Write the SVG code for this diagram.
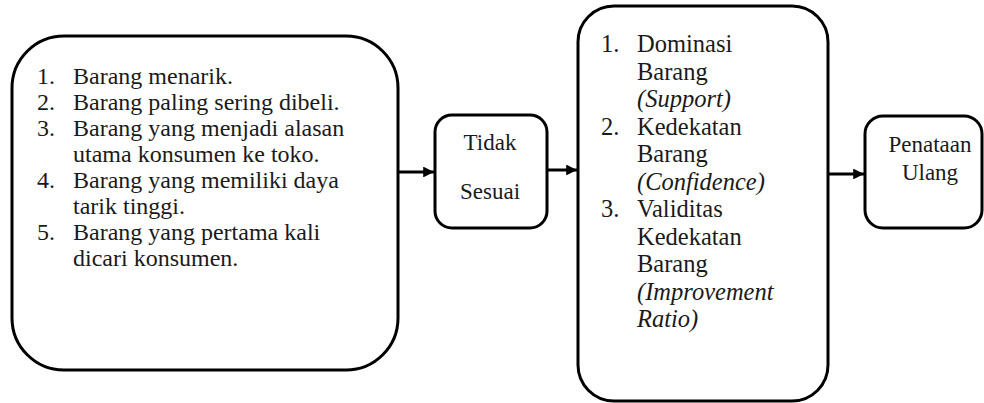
<svg xmlns="http://www.w3.org/2000/svg" width="984" height="403" viewBox="0 0 984 403">
<style>
  .box { fill: #fff; stroke: #000; stroke-width: 3; }
  .t { font-family: 'Liberation Serif', 'Times New Roman', serif; fill: #1a1a1a; }
  .b1 { font-size: 24px; }
  .b2 { font-size: 23px; }
  .b3 { font-size: 24.5px; }
  .i { font-style: italic; }
  .conn line { stroke: #000; stroke-width: 3; }
</style>
<defs>
  <marker id="ah" viewBox="0 0 10 10" refX="10" refY="5" markerWidth="3.8" markerHeight="3.6" markerUnits="strokeWidth" orient="auto">
    <path d="M0,0 L10,5 L0,10 Z" fill="#000"/>
  </marker>
</defs>
<rect width="984" height="403" fill="#fff"/>
<g id="criteria">
  <rect class="box" x="12" y="36" width="386" height="334" rx="52" ry="52"/>
  <g class="t b1">
    <text x="37" y="84">1.</text><text x="73" y="84">Barang menarik.</text>
    <text x="37" y="110">2.</text><text x="73" y="110">Barang paling sering dibeli.</text>
    <text x="37" y="136">3.</text><text x="73" y="136">Barang yang menjadi alasan</text>
    <text x="73" y="162">utama konsumen ke toko.</text>
    <text x="37" y="188">4.</text><text x="73" y="188">Barang yang memiliki daya</text>
    <text x="73" y="214">tarik tinggi.</text>
    <text x="37" y="240">5.</text><text x="73" y="240">Barang yang pertama kali</text>
    <text x="73" y="266">dicari konsumen.</text>
  </g>
</g>
<g id="tidak-sesuai">
  <rect class="box" x="435" y="115" width="112" height="113" rx="17" ry="17"/>
  <g class="t b2" text-anchor="middle">
    <text x="490" y="150">Tidak</text>
    <text x="490" y="199">Sesuai</text>
  </g>
</g>
<g id="analysis">
  <rect class="box" x="578" y="6" width="250" height="395" rx="36" ry="36"/>
  <g class="t b3">
    <text x="601" y="52">1.</text><text x="637" y="52">Dominasi</text>
    <text x="637" y="79.5">Barang</text>
    <text class="i" x="637" y="107">(Support)</text>
    <text x="601" y="134.5">2.</text><text x="637" y="134.5">Kedekatan</text>
    <text x="637" y="162">Barang</text>
    <text class="i" x="637" y="189.5">(Confidence)</text>
    <text x="601" y="217">3.</text><text x="637" y="217">Validitas</text>
    <text x="637" y="244.5">Kedekatan</text>
    <text x="637" y="272">Barang</text>
    <text class="i" x="637" y="299.5">(Improvement</text>
    <text class="i" x="637" y="327">Ratio)</text>
  </g>
</g>
<g id="penataan-ulang">
  <rect class="box" x="865" y="116" width="117" height="112" rx="18" ry="18"/>
  <g class="t b2" text-anchor="middle">
    <text x="930" y="152">Penataan</text>
    <text x="930" y="180">Ulang</text>
  </g>
</g>
<g class="conn" id="connectors">
  <line x1="398" y1="172" x2="434" y2="172" marker-end="url(#ah)"/>
  <line x1="547" y1="170" x2="577" y2="170" marker-end="url(#ah)"/>
  <line x1="828" y1="174" x2="864" y2="174" marker-end="url(#ah)"/>
</g>
</svg>
